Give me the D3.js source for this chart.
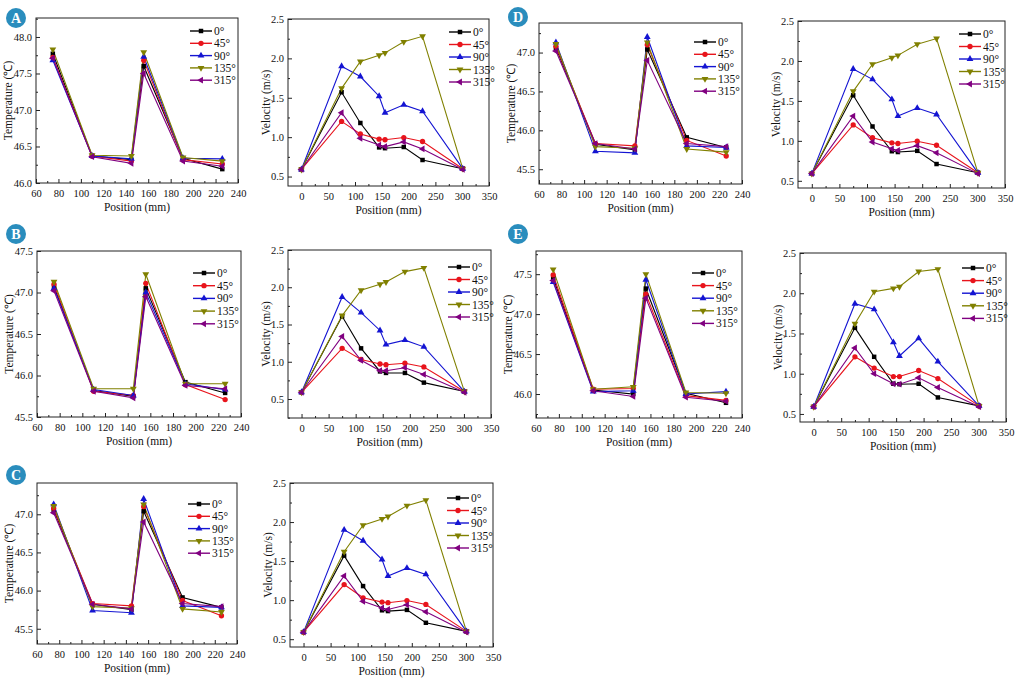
<!DOCTYPE html>
<html>
<head>
<meta charset="utf-8">
<script src="https://cdn.jsdelivr.net/npm/d3@7"></script>
<style>
  body { margin: 0; background: #fff; }
  svg, svg text { font-family: "Liberation Serif", "Times New Roman", serif; }
</style>
</head>
<body>
<script>
//Series names and colours
var angles = ["0°", "45°", "90°", "135°", "315°"];
var colors = ["#000000", "#e8141c", "#1414d2", "#808000", "#800080"];

//Measuring positions (mm)
var tempPos = [75, 110, 145, 156, 191, 226];
var velPos = [0, 75, 110, 145, 156, 191, 226, 301];

//Tick labels
var tempTicksX = [60, 80, 100, 120, 140, 160, 180, 200, 220, 240];
var velTicksX = [0, 50, 100, 150, 200, 250, 300, 350];
var velTicksY = [0.5, 1.0, 1.5, 2.0, 2.5];
var tempTicksA = [46.0, 46.5, 47.0, 47.5, 48.0];
var tempTicksB = [45.5, 46.0, 46.5, 47.0, 47.5];
var tempTicksC = [45.5, 46.0, 46.5, 47.0];
var tempTicksD = [45.5, 46.0, 46.5, 47.0];
var tempTicksE = [46.0, 46.5, 47.0, 47.5];

//Temperature (°C), one row per angle
var tempA = [
  [47.77, 46.37, 46.32, 47.60, 46.34, 46.19],
  [47.72, 46.37, 46.30, 47.68, 46.32, 46.26],
  [47.68, 46.37, 46.33, 47.73, 46.34, 46.33],
  [47.83, 46.38, 46.37, 47.79, 46.35, 46.30],
  [47.71, 46.36, 46.27, 47.50, 46.30, 46.23]
];
var tempB = [
  [47.07, 45.82, 45.75, 47.05, 45.92, 45.79],
  [47.10, 45.81, 45.76, 47.11, 45.89, 45.71],
  [47.05, 45.83, 45.76, 47.00, 45.90, 45.83],
  [47.13, 45.84, 45.84, 47.22, 45.90, 45.90],
  [47.02, 45.81, 45.73, 46.95, 45.88, 45.84]
];
var tempC = [
  [47.06, 45.82, 45.75, 47.04, 45.91, 45.78],
  [47.08, 45.83, 45.80, 47.10, 45.87, 45.67],
  [47.13, 45.74, 45.71, 47.20, 45.80, 45.78],
  [47.11, 45.79, 45.77, 47.13, 45.76, 45.72],
  [47.02, 45.82, 45.76, 46.90, 45.83, 45.79]
];
var tempD = [
  [47.06, 45.82, 45.75, 47.04, 45.91, 45.78],
  [47.08, 45.83, 45.80, 47.10, 45.87, 45.67],
  [47.13, 45.73, 45.71, 47.20, 45.80, 45.78],
  [47.11, 45.79, 45.77, 47.13, 45.76, 45.72],
  [47.02, 45.83, 45.76, 46.90, 45.83, 45.79]
];
var tempE = [
  [47.45, 46.05, 46.00, 47.32, 46.01, 45.89],
  [47.49, 46.06, 46.07, 47.25, 45.98, 45.92],
  [47.40, 46.03, 46.04, 47.43, 46.00, 46.03],
  [47.56, 46.06, 46.09, 47.50, 46.02, 46.01],
  [47.42, 46.04, 45.97, 47.20, 45.96, 45.91]
];

//Velocity (m/s), one row per angle
var velA = [
  [0.59, 1.57, 1.18, 0.87, 0.86, 0.875, 0.71, 0.60],
  [0.59, 1.20, 1.04, 0.975, 0.967, 0.995, 0.945, 0.60],
  [0.59, 1.90, 1.77, 1.52, 1.31, 1.41, 1.33, 0.60],
  [0.59, 1.62, 1.96, 2.04, 2.07, 2.21, 2.28, 0.60],
  [0.59, 1.31, 0.985, 0.90, 0.88, 0.94, 0.85, 0.59]
];
var velB = [
  [0.59, 1.61, 1.18, 0.87, 0.85, 0.85, 0.72, 0.60],
  [0.59, 1.18, 1.03, 0.97, 0.96, 0.98, 0.93, 0.60],
  [0.59, 1.87, 1.66, 1.42, 1.23, 1.29, 1.20, 0.60],
  [0.59, 1.62, 1.96, 2.04, 2.07, 2.21, 2.26, 0.60],
  [0.59, 1.34, 1.02, 0.88, 0.88, 0.92, 0.83, 0.59]
];
var velC = [
  [0.59, 1.57, 1.18, 0.87, 0.86, 0.875, 0.71, 0.60],
  [0.59, 1.20, 1.03, 0.975, 0.967, 0.995, 0.945, 0.60],
  [0.59, 1.90, 1.76, 1.52, 1.31, 1.41, 1.33, 0.60],
  [0.59, 1.62, 1.96, 2.04, 2.07, 2.21, 2.28, 0.60],
  [0.59, 1.31, 0.985, 0.90, 0.88, 0.94, 0.85, 0.59]
];
var velD = [
  [0.59, 1.57, 1.18, 0.87, 0.86, 0.875, 0.71, 0.60],
  [0.59, 1.20, 1.04, 0.975, 0.967, 0.995, 0.945, 0.60],
  [0.59, 1.90, 1.77, 1.52, 1.31, 1.41, 1.33, 0.60],
  [0.59, 1.62, 1.96, 2.04, 2.07, 2.21, 2.28, 0.60],
  [0.59, 1.31, 0.985, 0.90, 0.88, 0.94, 0.85, 0.59]
];
var velE = [
  [0.59, 1.57, 1.21, 0.875, 0.87, 0.875, 0.705, 0.60],
  [0.59, 1.21, 1.07, 0.965, 0.965, 1.04, 0.94, 0.60],
  [0.59, 1.87, 1.80, 1.39, 1.22, 1.44, 1.15, 0.60],
  [0.59, 1.62, 2.02, 2.06, 2.08, 2.27, 2.30, 0.60],
  [0.59, 1.32, 1.00, 0.875, 0.87, 0.95, 0.83, 0.59]
];

//Width and height
var w = 1015;
var h = 679;
var serif = "'Liberation Serif', 'Times New Roman', serif";

var svg = d3.select("body")
            .append("svg")
            .attr("width", w)
            .attr("height", h)
            .attr("font-family", serif);

//Marker shapes: square, circle, triangle up, triangle down, triangle left
var symbols = [d3.symbolSquare, d3.symbolCircle, d3.symbolTriangle, d3.symbolTriangle, d3.symbolTriangle];
var rotations = [0, 0, 0, 180, -90];
var symSizes = [20, 22, 20, 20, 20];

//Frame boxes [left, top, right, bottom] and legend placement
var panels = [
  {label: "A", lx: 16, ly: 18, kind: "temp", box: [36, 18, 238, 183], yd: [46.0, 48.26], yt: tempTicksA, data: tempA, leg: [48, 13, 12.3]},
  {kind: "vel", box: [288, 19, 489, 186], yd: [0.38, 2.5], data: velA, leg: [40, 13, 12.5]},
  {label: "B", lx: 16, ly: 234, kind: "temp", box: [37, 251, 241, 417], yd: [45.5, 47.5], yt: tempTicksB, data: tempB, leg: [48, 22, 12.7]},
  {kind: "vel", box: [288, 250, 491, 418], yd: [0.245, 2.5], data: velB, leg: [43, 17, 12.5]},
  {label: "C", lx: 16, ly: 475, kind: "temp", box: [37, 483, 237, 644], yd: [45.3, 47.41], yt: tempTicksC, data: tempC, leg: [49, 21, 12.3]},
  {kind: "vel", box: [290, 483, 493, 647], yd: [0.4, 2.5], data: velC, leg: [46, 15, 12.5]},
  {label: "D", lx: 518, ly: 17, kind: "temp", box: [539, 23, 742, 184], yd: [45.31, 47.38], yt: tempTicksD, data: tempD, leg: [48, 19, 12.3]},
  {kind: "vel", box: [798, 21, 1005, 188], yd: [0.41, 2.5], data: velD, leg: [46, 13, 12.5]},
  {label: "E", lx: 518, ly: 234, kind: "temp", box: [536, 251, 742, 418], yd: [45.7, 47.79], yt: tempTicksE, data: tempE, leg: [50, 22, 12.6]},
  {kind: "vel", box: [800, 253, 1006, 422], yd: [0.4, 2.5], data: velE, leg: [44, 15, 12.6]}
];

function styleAxis(a) {
    a.attr("font-family", serif).attr("font-size", 10.5);
    a.select(".domain").remove();
    a.selectAll("text").attr("fill", "#111");
    a.selectAll("line").attr("stroke", "#222");
}

panels.forEach(function(p) {
    var b = p.box;
    var isTemp = p.kind == "temp";
    var xPos = isTemp ? tempPos : velPos;

    var x = d3.scaleLinear()
              .domain(isTemp ? [60, 240] : [-25, 350])
              .range([b[0], b[2]]);
    var y = d3.scaleLinear()
              .domain(p.yd)
              .range([b[3], b[1]]);

    var g = svg.append("g");

    //Minor ticks (inward)
    var xMinor = isTemp ? d3.range(70, 240, 20) : d3.range(25, 350, 50);
    var yMajor = isTemp ? p.yt : velTicksY;
    var yMinor = yMajor.map(function(d) { return d + 0.25; })
                       .concat([yMajor[0] - 0.25])
                       .filter(function(d) { return d > p.yd[0] && d < p.yd[1]; });

    //Bottom axis
    g.append("g")
     .attr("transform", "translate(0," + b[3] + ")")
     .call(d3.axisBottom(x).tickValues(isTemp ? tempTicksX : velTicksX)
             .tickSize(-4).tickPadding(5).tickFormat(d3.format("d")))
     .call(styleAxis)
     .call(function(a) { a.selectAll("text").attr("dy", "0.85em"); });
    g.append("g")
     .attr("transform", "translate(0," + b[3] + ")")
     .call(d3.axisBottom(x).tickValues(xMinor).tickSize(-2).tickFormat(""))
     .call(styleAxis);

    //Left axis
    g.append("g")
     .attr("transform", "translate(" + b[0] + ",0)")
     .call(d3.axisLeft(y).tickValues(yMajor).tickSize(-4).tickPadding(4).tickFormat(d3.format(".1f")))
     .call(styleAxis);
    g.append("g")
     .attr("transform", "translate(" + b[0] + ",0)")
     .call(d3.axisLeft(y).tickValues(yMinor).tickSize(-2).tickFormat(""))
     .call(styleAxis);

    //Frame
    g.append("rect")
     .attr("x", b[0]).attr("y", b[1])
     .attr("width", b[2] - b[0]).attr("height", b[3] - b[1])
     .attr("fill", "none").attr("stroke", "#222").attr("stroke-width", 1);

    //Axis titles
    g.append("text")
     .attr("x", (b[0] + b[2]) / 2).attr("y", b[3] + 28)
     .attr("text-anchor", "middle").attr("font-size", 11.5).attr("fill", "#111")
     .text("Position (mm)");
    var ty = (b[1] + b[3]) / 2;
    var tx = b[0] - (isTemp ? 24 : 18);
    g.append("text")
     .attr("transform", "translate(" + tx + "," + ty + ") rotate(-90)")
     .attr("text-anchor", "middle").attr("font-size", 11.5).attr("fill", "#111")
     .text(isTemp ? "Temperature (℃)" : "Velocity (m/s)");

    //Lines and markers
    var line = d3.line()
                 .x(function(d, i) { return x(xPos[i]); })
                 .y(function(d) { return y(d); });

    p.data.forEach(function(series, k) {
        g.append("path")
         .datum(series)
         .attr("d", line)
         .attr("fill", "none")
         .attr("stroke", colors[k])
         .attr("stroke-width", 1.1);
    });
    p.data.forEach(function(series, k) {
        g.selectAll(null)
         .data(series)
         .enter()
         .append("path")
         .attr("d", d3.symbol().type(symbols[k]).size(symSizes[k]))
         .attr("transform", function(d, i) {
             return "translate(" + x(xPos[i]) + "," + y(d) + ") rotate(" + rotations[k] + ")";
         })
         .attr("fill", colors[k]);
    });

    //Legend
    var lx0 = b[2] - p.leg[0];
    angles.forEach(function(name, k) {
        var ly = b[1] + p.leg[1] + k * p.leg[2];
        g.append("line")
         .attr("x1", lx0).attr("x2", lx0 + 22)
         .attr("y1", ly).attr("y2", ly)
         .attr("stroke", colors[k]).attr("stroke-width", 1.4);
        g.append("path")
         .attr("d", d3.symbol().type(symbols[k]).size(symSizes[k]))
         .attr("transform", "translate(" + (lx0 + 11) + "," + ly + ") rotate(" + rotations[k] + ")")
         .attr("fill", colors[k]);
        g.append("text")
         .attr("x", lx0 + 24).attr("y", ly).attr("dy", "0.35em")
         .attr("font-size", 11.5).attr("fill", "#111")
         .text(name);
    });

    //Panel letter badge
    if (p.label) {
        svg.append("circle")
           .attr("cx", p.lx).attr("cy", p.ly).attr("r", 10)
           .attr("fill", "#2a8dbd");
        svg.append("text")
           .attr("x", p.lx).attr("y", p.ly).attr("dy", "0.36em")
           .attr("text-anchor", "middle")
           .attr("font-family", "'DejaVu Sans', Arial, sans-serif")
           .attr("font-weight", "bold").attr("font-size", 14).attr("fill", "#fff")
           .text(p.label);
    }
});
</script>
</body>
</html>
